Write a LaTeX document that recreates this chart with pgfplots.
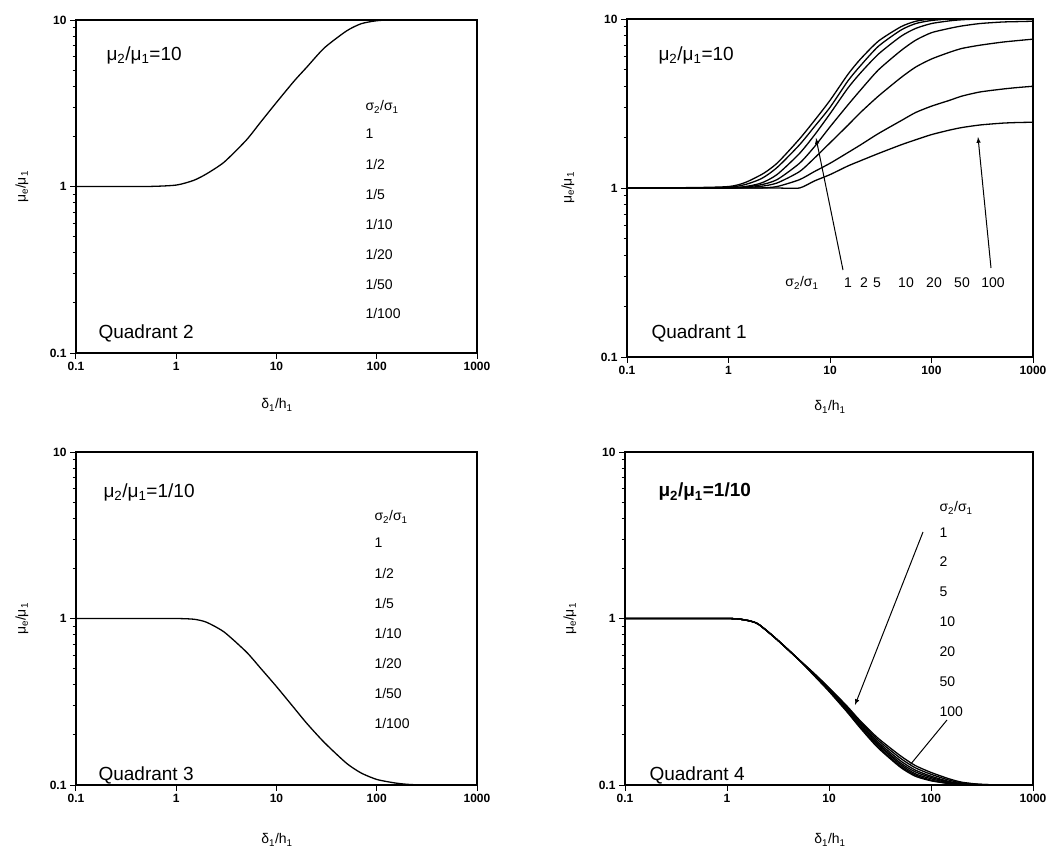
\documentclass[border=0pt]{standalone}
\usepackage{fontspec}
\setmainfont{Liberation Sans}
\usepackage{pgfplots}
\usepackage{pgfplotstable}
\pgfplotsset{compat=1.18}

% Quadrant 2: all sigma ratios coincide
\pgfplotstableread{
x y
0.1 1
0.5 1
1 1.02
1.5 1.09
2 1.19
3 1.4
5 1.9
7 2.45
10 3.2
15 4.3
20 5.2
30 6.8
50 8.6
70 9.5
100 9.9
150 10
1000 10
}\qtwo

% Quadrant 1
\pgfplotstableread{
x s1 s2 s5 s10 s20 s50 s100
0.1 1 1 1 1 1 1 1
1 1.02 1.01 1 1 1 1 1
2 1.18 1.12 1.06 1.04 1.02 1 1
3 1.4 1.32 1.2 1.12 1.07 1.02 1
5 1.95 1.8 1.6 1.4 1.25 1.12 1.0
7 2.5 2.3 2.05 1.75 1.5 1.25 1.1
10 3.3 3.0 2.75 2.3 1.85 1.4 1.2
15 4.7 4.3 3.9 3.1 2.35 1.62 1.35
20 5.8 5.3 4.8 3.8 2.8 1.8 1.45
30 7.4 6.9 6.2 5.0 3.5 2.1 1.6
50 9.0 8.6 7.9 6.5 4.5 2.5 1.8
70 9.7 9.4 8.8 7.5 5.2 2.8 1.93
100 10 9.8 9.4 8.3 5.8 3.05 2.07
150 10 10 9.75 8.8 6.35 3.3 2.2
200 10 10 9.9 9.1 6.7 3.5 2.28
300 10 10 10 9.4 7.0 3.7 2.36
500 10 10 10 9.6 7.3 3.85 2.42
700 10 10 10 9.65 7.45 3.93 2.44
1000 10 10 10 9.7 7.6 4.0 2.45
}\qone

% Quadrant 3
\pgfplotstableread{
x y
0.1 1
0.5 1
1 1
1.5 0.99
2 0.95
3 0.83
5 0.63
7 0.5
10 0.39
15 0.29
20 0.235
30 0.18
50 0.135
70 0.118
100 0.108
150 0.103
200 0.101
300 0.1
1000 0.1
}\qthree

% Quadrant 4
\pgfplotstableread{
x s1 s2 s5 s10 s20 s50 s100
0.1 1 1 1 1 1 1 1
1 1 1 1 1 1 1 1
1.5 0.98 0.98 0.98 0.98 0.98 0.98 0.98
2 0.93 0.93 0.93 0.93 0.93 0.93 0.93
3 0.76 0.76 0.76 0.76 0.76 0.76 0.76
5 0.57 0.57 0.57 0.57 0.57 0.57 0.57
7 0.46 0.462 0.465 0.468 0.47 0.472 0.474
10 0.365 0.368 0.372 0.375 0.378 0.381 0.384
15 0.275 0.278 0.282 0.286 0.29 0.294 0.298
20 0.222 0.225 0.229 0.233 0.237 0.241 0.245
30 0.168 0.171 0.175 0.178 0.182 0.187 0.192
50 0.128 0.13 0.133 0.136 0.14 0.145 0.15
70 0.113 0.115 0.117 0.12 0.123 0.127 0.131
100 0.106 0.107 0.109 0.111 0.113 0.116 0.119
150 0.102 0.102 0.103 0.104 0.105 0.107 0.109
200 0.1 0.1 0.101 0.101 0.102 0.103 0.104
300 0.1 0.1 0.1 0.1 0.1 0.101 0.101
500 0.1 0.1 0.1 0.1 0.1 0.1 0.1
1000 0.1 0.1 0.1 0.1 0.1 0.1 0.1
}\qfour

\pgfplotsset{
  every axis/.append style={
    scale only axis,
    xmin=0.1, xmax=1000, ymin=0.1, ymax=10,
    xtick={0.1,1,10,100,1000}, xticklabels={0.1,1,10,100,1000},
    ytick={0.1,1,10}, yticklabels={0.1,1,10},
    minor ytick={0.2,0.3,0.4,0.5,0.6,0.7,0.8,0.9,2,3,4,5,6,7,8,9},
    xminorticks=false,
    tick align=outside, xtick pos=bottom, ytick pos=left,
    major tick length=6pt, minor tick length=3.5pt,
    every major tick/.append style={line width=1pt, black},
    every minor tick/.append style={line width=1pt, black},
    axis line style={line width=1.3pt},
    tick label style={font=\fontsize{12}{14}\selectfont\bfseries},
    cycle list={{black, solid, mark=none}},
  },
  every axis plot post/.append style={black, solid, mark=none, line width=1.3pt, smooth, tension=0.4},
}

\newcommand{\lab}{\fontsize{14}{16}\selectfont}
\newcommand{\biglab}{\fontsize{19}{22}\selectfont}

\begin{document}
\begin{tikzpicture}
\path[use as bounding box] (0,0) rectangle (1053pt,-859pt);

% Quadrant 2 (top left)
\begin{loglogaxis}[at={(76pt,-353pt)}, anchor=south west, width=401pt, height=333pt]
\addplot table[x=x,y=y] {\qtwo};
\end{loglogaxis}

% Quadrant 1 (top right)
\begin{loglogaxis}[at={(627pt,-357pt)}, anchor=south west, width=406pt, height=338pt]
\addplot table[x=x,y=s1] {\qone};
\addplot table[x=x,y=s2] {\qone};
\addplot table[x=x,y=s5] {\qone};
\addplot table[x=x,y=s10] {\qone};
\addplot table[x=x,y=s20] {\qone};
\addplot table[x=x,y=s50] {\qone};
\addplot table[x=x,y=s100] {\qone};
\end{loglogaxis}

% Quadrant 3 (bottom left)
\begin{loglogaxis}[at={(76pt,-785pt)}, anchor=south west, width=401pt, height=333pt]
\addplot table[x=x,y=y] {\qthree};
\end{loglogaxis}

% Quadrant 4 (bottom right)
\begin{loglogaxis}[at={(625pt,-785pt)}, anchor=south west, width=408pt, height=333pt]
\addplot table[x=x,y=s1] {\qfour};
\addplot table[x=x,y=s2] {\qfour};
\addplot table[x=x,y=s5] {\qfour};
\addplot table[x=x,y=s10] {\qfour};
\addplot table[x=x,y=s20] {\qfour};
\addplot table[x=x,y=s50] {\qfour};
\addplot table[x=x,y=s100] {\qfour};
\end{loglogaxis}

% axis labels
\foreach \px/\py in {277/-405, 830/-407, 277/-840, 830/-840}
  \node[font=\lab] at (\px pt,\py pt) {δ\textsubscript{1}/h\textsubscript{1}};
\foreach \px/\py in {22/-187, 568/-188, 22/-619, 570/-619}
  \node[font=\lab, rotate=90] at (\px pt,\py pt) {μ\textsubscript{e}/μ\textsubscript{1}};

% Quadrant 2 annotations
\node[font=\biglab, anchor=west] at (103pt,-55pt) {μ\textsubscript{2}/μ\textsubscript{1}=10};
\node[font=\biglab, anchor=west] at (95pt,-333pt) {Quadrant 2};
\begin{scope}[every node/.style={font=\lab, anchor=west}]
\node at (362pt,-107pt) {σ\textsubscript{2}/σ\textsubscript{1}};
\node at (362pt,-134pt) {1};
\node at (362pt,-164pt) {1/2};
\node at (362pt,-194pt) {1/5};
\node at (362pt,-224pt) {1/10};
\node at (362pt,-254pt) {1/20};
\node at (362pt,-284pt) {1/50};
\node at (362pt,-313pt) {1/100};
\end{scope}

% Quadrant 1 annotations
\node[font=\biglab, anchor=west] at (655pt,-55pt) {μ\textsubscript{2}/μ\textsubscript{1}=10};
\node[font=\biglab, anchor=west] at (648pt,-333pt) {Quadrant 1};
\begin{scope}[every node/.style={font=\lab}]
\node at (802pt,-283pt) {σ\textsubscript{2}/σ\textsubscript{1}};
\node at (848pt,-283pt) {1};
\node at (864pt,-283pt) {2};
\node at (877pt,-283pt) {5};
\node at (906pt,-283pt) {10};
\node at (934pt,-283pt) {20};
\node at (962pt,-283pt) {50};
\node at (993pt,-283pt) {100};
\end{scope}
\draw[-latex, line width=1pt] (843pt,-270pt) -- (816pt,-138pt);
\draw[-latex, line width=1pt] (991pt,-268pt) -- (978pt,-137pt);

% Quadrant 3 annotations
\node[font=\biglab, anchor=west] at (100pt,-492pt) {μ\textsubscript{2}/μ\textsubscript{1}=1/10};
\node[font=\biglab, anchor=west] at (95pt,-775pt) {Quadrant 3};
\begin{scope}[every node/.style={font=\lab, anchor=west}]
\node at (371pt,-517pt) {σ\textsubscript{2}/σ\textsubscript{1}};
\node at (371pt,-543pt) {1};
\node at (371pt,-573pt) {1/2};
\node at (371pt,-603pt) {1/5};
\node at (371pt,-633pt) {1/10};
\node at (371pt,-663pt) {1/20};
\node at (371pt,-693pt) {1/50};
\node at (371pt,-723pt) {1/100};
\end{scope}

% Quadrant 4 annotations
\node[font=\biglab\bfseries, anchor=west] at (655pt,-492pt) {μ\textsubscript{2}/μ\textsubscript{1}=1/10};
\node[font=\biglab, anchor=west] at (646pt,-775pt) {Quadrant 4};
\begin{scope}[every node/.style={font=\lab, anchor=west}]
\node at (936pt,-508pt) {σ\textsubscript{2}/σ\textsubscript{1}};
\node at (936pt,-533pt) {1};
\node at (936pt,-562pt) {2};
\node at (936pt,-592pt) {5};
\node at (936pt,-622pt) {10};
\node at (936pt,-652pt) {20};
\node at (936pt,-682pt) {50};
\node at (936pt,-712pt) {100};
\end{scope}
\draw[-latex, line width=1pt] (923pt,-532pt) -- (855pt,-705pt);
\draw[line width=1pt] (947pt,-720pt) -- (910pt,-765pt);
\end{tikzpicture}
\end{document}
